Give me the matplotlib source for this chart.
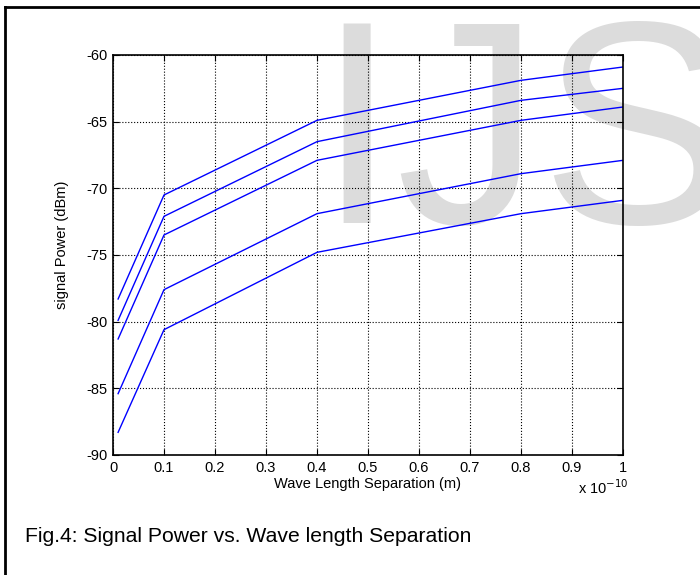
import matplotlib.pyplot as plt
from matplotlib.lines import Line2D

plt.rcParams['font.family'] = ['Liberation Sans Narrow', 'Liberation Sans', 'DejaVu Sans']
plt.rcParams['axes.unicode_minus'] = False

# wavelength separation, in units of 1e-10 m
separation = [0.01, 0.1, 0.4, 0.8, 1.0]
power_1 = [-78.3, -70.5, -64.9, -61.9, -60.9]
power_2 = [-79.9, -72.1, -66.5, -63.4, -62.5]
power_3 = [-81.3, -73.5, -67.9, -64.9, -63.9]
power_4 = [-85.4, -77.6, -71.9, -68.9, -67.9]
power_5 = [-88.3, -80.6, -74.8, -71.9, -70.9]

x_ticks = [0, 0.1, 0.2, 0.3, 0.4, 0.5, 0.6, 0.7, 0.8, 0.9, 1]
x_labels = ['0', '0.1', '0.2', '0.3', '0.4', '0.5', '0.6', '0.7', '0.8', '0.9', '1']
y_ticks = [-90, -85, -80, -75, -70, -65, -60]

fig = plt.figure(figsize=(7, 5.75), dpi=100)
fig.patch.set_facecolor('white')

# watermark behind the plot
fig.text(316/700, 1 - 223/575, 'IJS', fontsize=208, color='#dcdcdc',
         family='Liberation Sans', ha='left', va='baseline', zorder=-1)

# page frame (left and top edges)
fig.add_artist(Line2D([5/700, 5/700], [0, 1 - 7/575], transform=fig.transFigure,
                      color='black', lw=2))
fig.add_artist(Line2D([5/700, 1], [1 - 7/575, 1 - 7/575], transform=fig.transFigure,
                      color='black', lw=2))

ax = fig.add_axes([113/700, 120/575, 510/700, 400/575])
ax.patch.set_alpha(0)

for p in [power_1, power_2, power_3, power_4, power_5]:
    ax.plot(separation, p, color='#0000ff', lw=1)

ax.set_xlim(0, 1)
ax.set_ylim(-90, -60)
ax.set_xticks(x_ticks)
ax.set_xticklabels(x_labels)
ax.set_yticks(y_ticks)
ax.tick_params(direction='in', top=True, right=True, labelsize=10.5, length=4, pad=4)
ax.grid(True, color='black', linestyle=':', lw=0.8)
for s in ax.spines.values():
    s.set_linewidth(1.2)

ax.set_xlabel('Wave Length Separation (m)', fontsize=10.5, labelpad=2)
ax.set_ylabel('signal Power (dBm)', fontsize=10.5)
ax.yaxis.set_label_coords(-0.086, 0.525)
fig.text(578/700, 1 - 488/575, r'x 10$^{-10}$', fontsize=10.5, ha='left', va='center')

fig.text(25/700, 1 - 537/575, 'Fig.4: Signal Power vs. Wave length Separation',
         fontsize=15.2, ha='left', va='center')

fig.savefig('out.png', dpi=100)
